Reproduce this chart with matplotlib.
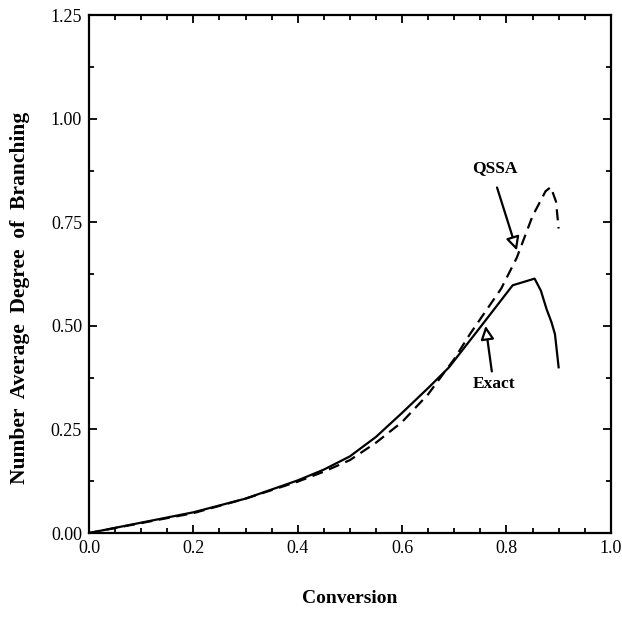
import matplotlib
matplotlib.use('Agg')
import matplotlib.pyplot as plt
from matplotlib.ticker import MultipleLocator

plt.rcParams['font.family'] = ['Liberation Serif', 'DejaVu Serif']

# Exact solution
exact_x = [0.0, 0.1, 0.2, 0.3, 0.4, 0.45, 0.5, 0.55, 0.6, 0.65, 0.69, 0.75, 0.812, 0.854, 0.866, 0.877, 0.886, 0.893, 0.90]
exact_y = [0.0, 0.025, 0.05, 0.083, 0.127, 0.153, 0.185, 0.232, 0.29, 0.35, 0.40, 0.497, 0.598, 0.614, 0.585, 0.54, 0.51, 0.48, 0.40]

# QSSA
qssa_x = [0.0, 0.1, 0.2, 0.3, 0.4, 0.45, 0.5, 0.55, 0.6, 0.65, 0.7, 0.73, 0.79, 0.82, 0.85, 0.875, 0.885, 0.895, 0.90]
qssa_y = [0.0, 0.024, 0.048, 0.083, 0.124, 0.148, 0.176, 0.218, 0.268, 0.335, 0.42, 0.48, 0.59, 0.665, 0.765, 0.825, 0.835, 0.80, 0.735]

fig = plt.figure(figsize=(6.22, 6.18), dpi=100)
ax = fig.add_axes([0.143, 0.1375, 0.839, 0.838])

ax.plot(exact_x, exact_y, color='black', lw=1.6)
ax.plot(qssa_x, qssa_y, color='black', lw=1.6, ls=(0, (5, 3)))

ax.set_xlim(0, 1.0)
ax.set_ylim(0, 1.25)
ax.xaxis.set_major_locator(MultipleLocator(0.2))
ax.xaxis.set_minor_locator(MultipleLocator(0.05))
ax.yaxis.set_major_locator(MultipleLocator(0.25))
ax.yaxis.set_minor_locator(MultipleLocator(0.125))
ax.xaxis.set_major_formatter(plt.FormatStrFormatter('%.1f'))
ax.yaxis.set_major_formatter(plt.FormatStrFormatter('%.2f'))
ax.tick_params(which='both', direction='in', top=True, right=True, width=1.3, labelsize=13)
ax.tick_params(which='major', length=6, pad=5)
ax.tick_params(which='minor', length=3.5)
for s in ax.spines.values():
    s.set_linewidth(1.6)

ax.set_xlabel('Conversion', fontsize=14, fontweight='bold', labelpad=24)
ax.set_ylabel('Number  Average  Degree  of  Branching', fontsize=15.5, fontweight='bold')
ax.yaxis.set_label_coords(-0.112, 0.455)

arrow = dict(arrowstyle='-|>', fc='white', ec='black', lw=1.6, mutation_scale=20, shrinkA=0, shrinkB=0)
ax.text(0.778, 0.88, 'QSSA', ha='center', va='center', fontsize=12.5, fontweight='bold')
ax.annotate('', xy=(0.82, 0.682), xytext=(0.782, 0.834), arrowprops=arrow)
ax.text(0.776, 0.36, 'Exact', ha='center', va='center', fontsize=12.5, fontweight='bold')
ax.annotate('', xy=(0.76, 0.50), xytext=(0.772, 0.39), arrowprops=arrow)

fig.savefig('out.png', dpi=100)
